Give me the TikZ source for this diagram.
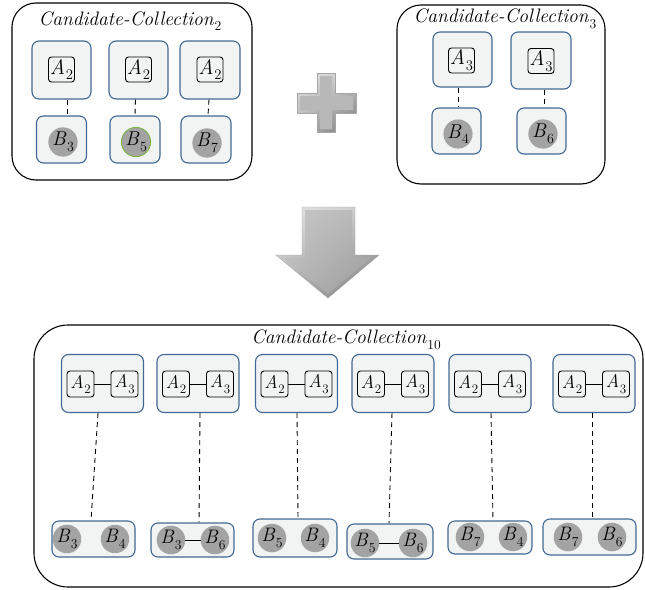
\documentclass[tikz,border=0pt]{standalone}
\usetikzlibrary{calc,shadings}
\definecolor{boxedge}{RGB}{66,104,150}
\definecolor{boxfill}{RGB}{242,243,243}
\definecolor{dotgray}{RGB}{163,163,163}
\definecolor{dotedge}{RGB}{124,184,64}
\definecolor{bevlight}{RGB}{232,232,232}
\definecolor{bevdark}{RGB}{122,122,122}
\definecolor{facegray}{RGB}{184,184,184}
% italic symbol with an upright, lowered index in a scalable text size
\makeatletter
\newcommand\symsub[2]{\textit{#1}\kern0.03em\raisebox{-0.28em}{\fontsize{\strip@pt\dimexpr\f@size pt*7/10\relax}{1}\selectfont #2}}
\makeatother
\begin{document}
\begin{tikzpicture}[x=1pt,y=-1pt,
  outerbox/.style={draw=black,line width=1.1pt,rounded corners=24pt},
  grpbox/.style={draw=boxedge,fill=boxfill,line width=1.1pt,rounded corners=7pt,inner sep=0pt},
  lbl/.style={draw=black,line width=0.9pt,rounded corners=3pt,inner sep=0pt,minimum width=26pt,minimum height=25pt,font=\fontsize{21}{23}\selectfont},
  lblsm/.style={lbl,minimum width=27pt,minimum height=26pt,font=\fontsize{18.5}{20}\selectfont},
  bdot/.style={circle,fill=dotgray,inner sep=0pt,minimum size=28pt,font=\fontsize{20}{22}\selectfont},
  ttl/.style={font=\fontsize{19.5}{22}\selectfont,inner sep=0pt},
  link/.style={dashed,dash pattern=on 5pt off 4pt,line width=0.9pt},
  bond/.style={line width=0.9pt}]
\useasboundingbox (0,0) rectangle (645,589);

% ---------- first collection ----------
\draw[outerbox] (12,3) rectangle (252,180);
\node[ttl] (t2) at (130,21) {\symsub{Candidate-Collection}{2}};
\foreach \n/\x/\w/\bx in {1/61.5/59/61.5, 2/138.5/59/135, 3/210/60/206}{
  \node[grpbox,minimum width=\w pt,minimum height=58pt] (pa\n) at (\x,70) {};
  \node[lbl] (pl\n) at (\x,69.5) {\symsub{A}{2}};
  \node[grpbox,minimum width=50pt,minimum height=47pt] (pb\n) at (\bx,139.5) {};
}
\node[bdot] (pd1) at (63,142) {\symsub{B}{3}};
\node[bdot,draw=dotedge,line width=0.8pt] (pd2) at (136,142) {\symsub{B}{5}};
\node[bdot] (pd3) at (207,143) {\symsub{B}{7}};
\draw[link] ([xshift=6pt]pa1.south) -- ([xshift=6pt]pb1.north);
\draw[link] ([xshift=-3pt]pa2.south) -- ([xshift=0pt]pb2.north);
\draw[link] ([xshift=-1pt]pa3.south) -- ([xshift=2pt]pb3.north);

% ---------- second collection ----------
\draw[outerbox] (397,5) rectangle (605,184);
\node[ttl] (t3) at (505,19) {\symsub{Candidate-Collection}{3}};
\node[grpbox,minimum width=59pt,minimum height=55pt] (qa1) at (462.5,59.5) {};
\node[grpbox,minimum width=60pt,minimum height=57pt] (qa2) at (541,60.5) {};
\node[lbl] (ql1) at (461.5,60.5) {\symsub{A}{3}};
\node[lbl] (ql2) at (541,61) {\symsub{A}{3}};
\node[grpbox,minimum width=49pt,minimum height=46pt] (qb1) at (456.5,131) {};
\node[grpbox,minimum width=49pt,minimum height=46pt] (qb2) at (541.5,131) {};
\node[bdot] (qd1) at (458,134) {\symsub{B}{4}};
\node[bdot] (qd2) at (543,134) {\symsub{B}{6}};
\draw[link] ([xshift=-4.5pt]qa1.south) -- ([xshift=1.5pt]qb1.north);
\draw[link] ([xshift=3pt]qa2.south) -- ([xshift=2.5pt]qb2.north);

% ---------- bevelled plus sign ----------
\shade[upper left=bevlight,upper right=bevlight!70!bevdark,lower left=bevlight!50!bevdark,lower right=bevdark,
  draw=gray!70,line width=0.4pt]
  (317,73) -- (335,73) -- (335,93) -- (356,93) -- (356,113) -- (335,113)
  -- (335,132) -- (317,132) -- (317,113) -- (297,113) -- (297,93) -- (317,93) -- cycle;
\fill[facegray] (320,76) -- (332,76) -- (332,96) -- (353,96) -- (353,110) -- (332,110)
  -- (332,129) -- (320,129) -- (320,110) -- (300,110) -- (300,96) -- (320,96) -- cycle;

% ---------- bevelled down arrow ----------
\shade[upper left=bevlight,upper right=bevlight!70!bevdark,lower left=bevlight!50!bevdark,lower right=bevdark,
  draw=gray!70,line width=0.4pt]
  (302,207) -- (355,207) -- (355,255) -- (379,255) -- (328,298)
  -- (276,255) -- (302,255) -- cycle;
\shade[upper left=white!78!black,upper right=white!72!black,lower left=white!72!black,lower right=white!60!black]
  (305,210) -- (352,210) -- (352,258) -- (371,258) -- (328,294)
  -- (284,258) -- (305,258) -- cycle;

% ---------- combined collection ----------
\draw[outerbox,rounded corners=34pt] (34,325) rectangle (643,587);
\node[ttl] (t10) at (346,340) {\symsub{Candidate-Collection}{10}};
\foreach \n/\x in {1/102.5, 2/198, 3/296.5, 4/393, 5/490, 6/594}{
  \node[grpbox,minimum width=82pt,minimum height=58pt] (ra\n) at (\x,383.5) {};
  \node[lblsm] (rl\n) at ($(ra\n.center)+(-22,0.5)$) {\symsub{A}{2}};
  \node[lblsm] (rr\n) at ($(ra\n.center)+(22,0.5)$) {\symsub{A}{3}};
  \draw[bond] (rl\n) -- (rr\n);
}
\node[grpbox,minimum width=83pt,minimum height=36pt] (rb1) at (93.5,539) {};
\node[grpbox,minimum width=83pt,minimum height=34pt] (rb2) at (192.5,540) {};
\node[grpbox,minimum width=84pt,minimum height=38pt] (rb3) at (295,538) {};
\node[grpbox,minimum width=86pt,minimum height=35pt] (rb4) at (390,541.5) {};
\node[grpbox,minimum width=84pt,minimum height=33pt] (rb5) at (490,537.5) {};
\node[grpbox,minimum width=93pt,minimum height=36pt] (rb6) at (589.5,537) {};
\foreach \n/\xl/\xr/\y/\l/\r in {1/67/115/539/3/4, 2/171/215/540/3/6, 3/272/315/538/5/4,
    4/365/413/543/5/6, 5/470/513/537/7/4, 6/568/612/537/7/6}{
  \node[bdot,minimum size=27pt,font=\fontsize{19.5}{21}\selectfont] (rdl\n) at (\xl,\y) {\symsub{B}{\l}};
  \node[bdot,minimum size=27pt,font=\fontsize{19.5}{21}\selectfont] (rdr\n) at (\xr,\y) {\symsub{B}{\r}};
}
\draw[bond] (rdl2) -- (rdr2);
\draw[bond] (rdl4) -- (rdr4);
\draw[link] ([xshift=-4.5pt]ra1.south) -- ([xshift=-2.5pt]rb1.north);
\draw[link] ([xshift=2pt]ra2.south) -- ([xshift=6.5pt]rb2.north);
\draw[link] ([xshift=0.5pt]ra3.south) -- ([xshift=3pt]rb3.north);
\draw[link] ([xshift=-1pt]ra4.south) -- ([xshift=-1pt]rb4.north);
\draw[link] ([xshift=1pt]ra5.south) -- ([xshift=3pt]rb5.north);
\draw[link] ([xshift=-2pt]ra6.south) -- ([xshift=2.5pt]rb6.north);
\end{tikzpicture}
\end{document}
